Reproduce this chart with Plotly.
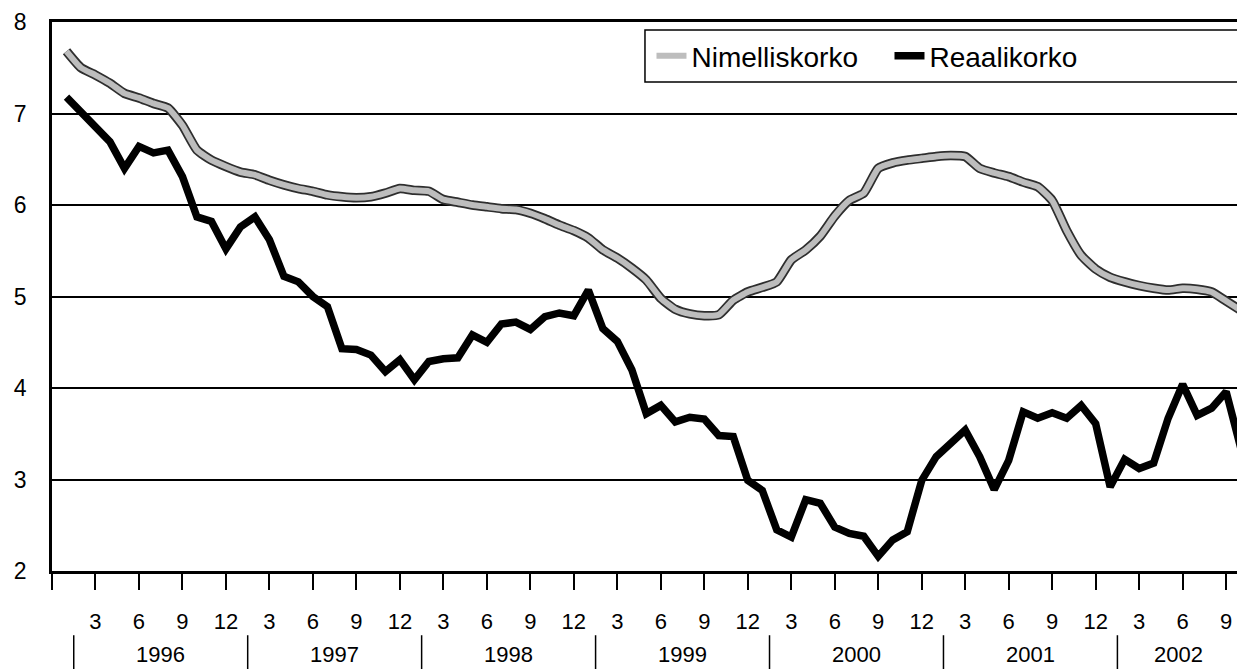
import plotly.graph_objects as go

# ---- data (monthly, Jan 1996 .. Oct 2002) ----
years = ["1996", "1997", "1998", "1999", "2000", "2001", "2002"]
month_numbers = list(range(1, 83))  # 1 = Jan 1996

nimelliskorko = [
    7.68, 7.50, 7.42, 7.33, 7.22, 7.17, 7.11, 7.06, 6.87, 6.60,
    6.49, 6.42, 6.36, 6.33, 6.27, 6.22, 6.18, 6.15, 6.11, 6.09,
    6.08, 6.09, 6.13, 6.18, 6.16, 6.15, 6.06, 6.03, 6.00, 5.98,
    5.96, 5.95, 5.91, 5.85, 5.78, 5.72, 5.64, 5.51, 5.42, 5.31,
    5.18, 4.98, 4.86, 4.81, 4.79, 4.80, 4.96, 5.05, 5.10, 5.16,
    5.40, 5.51, 5.66, 5.88, 6.05, 6.13, 6.40, 6.46, 6.49, 6.51,
    6.53, 6.54, 6.53, 6.40, 6.35, 6.31, 6.25, 6.20, 6.05, 5.72,
    5.45, 5.30, 5.21, 5.16, 5.12, 5.09, 5.07, 5.09, 5.08, 5.05,
    4.95, 4.85,
]

reaalikorko = [
    7.18, 7.01, 6.86, 6.69, 6.40, 6.64, 6.57, 6.60, 6.31, 5.87,
    5.82, 5.52, 5.76, 5.87, 5.62, 5.22, 5.16, 5.00, 4.89, 4.43,
    4.42, 4.36, 4.18, 4.31, 4.09, 4.29, 4.32, 4.33, 4.58, 4.50,
    4.70, 4.72, 4.64, 4.78, 4.82, 4.79, 5.07, 4.65, 4.51, 4.20,
    3.72, 3.81, 3.63, 3.68, 3.66, 3.48, 3.47, 2.99, 2.88, 2.45,
    2.37, 2.78, 2.74, 2.48, 2.41, 2.38, 2.16, 2.34, 2.43, 2.99,
    3.25, 3.40, 3.54, 3.25, 2.89, 3.21, 3.74, 3.67, 3.73, 3.67,
    3.81, 3.61, 2.92, 3.22, 3.12, 3.18, 3.67, 4.04, 3.70, 3.78,
    3.96, 3.35,
]

tick_positions = list(range(0, 82, 3))
tick_labels = ["" if v == 0 else str((v - 1) % 12 + 1) for v in tick_positions]
year_centers = [7.5, 19.5, 31.5, 43.5, 55.5, 67.5, 77.7]
year_separators = [1.5, 13.5, 25.5, 37.5, 49.5, 61.5, 73.5]

FONT = "Liberation Sans, Arial, Helvetica, sans-serif"

fig = go.Figure()

# outline of the grey (nominal) line
fig.add_trace(go.Scatter(
    x=month_numbers, y=nimelliskorko, mode="lines",
    line=dict(color="#2e2e2e", width=9.5, shape="spline", smoothing=0.5),
    showlegend=False, hoverinfo="skip", legendgroup="n",
))
fig.add_trace(go.Scatter(
    x=month_numbers, y=nimelliskorko, mode="lines", name="Nimelliskorko",
    line=dict(color="#bdbdbd", width=6, shape="spline", smoothing=0.5),
    legendgroup="n",
))
fig.add_trace(go.Scatter(
    x=month_numbers, y=reaalikorko, mode="lines", name="Reaalikorko",
    line=dict(color="black", width=7.5),
))

shapes = []
for s in year_separators:
    shapes.append(dict(type="line", xref="x", yref="paper", x0=s, x1=s,
                       y0=-0.117, y1=-0.20, line=dict(color="black", width=1.5)))
# legend frame (runs off the right edge as in the original)
shapes.append(dict(type="rect", xref="paper", yref="paper",
                   x0=0.5004, x1=1.02, y0=0.8907, y1=0.9854,
                   line=dict(color="black", width=1.5)))

annotations = []
for yr, c in zip(years, year_centers):
    annotations.append(dict(text=yr, x=c, xref="x", y=-0.153, yref="paper",
                            showarrow=False, yanchor="middle", xanchor="center",
                            font=dict(family=FONT, size=22, color="black")))

fig.update_layout(
    width=1237, height=669,
    margin=dict(l=52, r=0, t=22, b=98, autoexpand=False),
    plot_bgcolor="white", paper_bgcolor="white",
    font=dict(family=FONT, size=22, color="black"),
    shapes=shapes, annotations=annotations,
    legend=dict(orientation="h", x=0.5059, y=0.938, xanchor="left", yanchor="middle",
                bgcolor="rgba(0,0,0,0)", borderwidth=0,
                font=dict(family=FONT, size=28, color="black"),
                entrywidth=193, entrywidthmode="pixels"),
    xaxis=dict(range=[0, 81.75], tickmode="array", tickvals=tick_positions,
               ticktext=tick_labels, ticks="outside", ticklen=16, tickwidth=1.5,
               tickcolor="black", showline=True, linewidth=2.5, linecolor="black",
               mirror=True, showgrid=False, zeroline=False, ticklabelstandoff=13,
               automargin=False,
               tickfont=dict(family=FONT, size=22, color="black")),
    yaxis=dict(range=[2, 8], tickmode="array", tickvals=[2, 3, 4, 5, 6, 7, 8],
               showgrid=True, gridcolor="black", gridwidth=1.5,
               showline=True, linewidth=2.5, linecolor="black",
               ticks="", zeroline=False, ticklabelstandoff=18, automargin=False,
               tickfont=dict(family=FONT, size=23, color="black")),
)

fig.write_html(
    "out.html",
    config={"displayModeBar": False},
    post_script="document.body.style.margin='0';document.body.style.overflow='hidden';",
)
